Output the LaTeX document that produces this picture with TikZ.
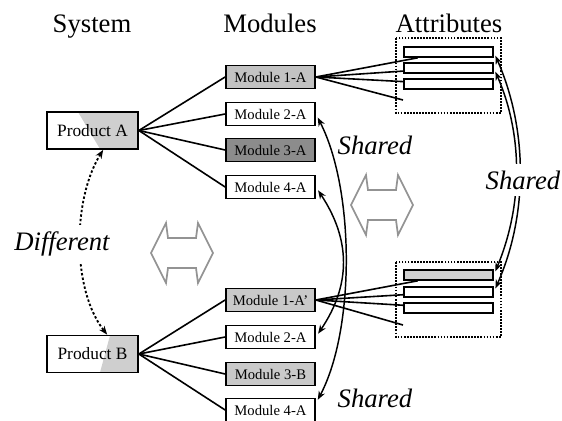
\documentclass[tikz,border=0pt]{standalone}
\usepackage{fontspec}
\setmainfont{Liberation Serif}
\usetikzlibrary{arrows.meta,calc}

\tikzset{swap arrow/.pic={
    \draw[draw=gray!85, line width=1.3pt, line join=miter]
      (-31,0) -- (-16,-30) -- (-14,-15) -- (14,-15) -- (16,-30) -- (31,0)
      -- (16,30) -- (14,15) -- (-14,15) -- (-16,30) -- cycle;
}}

\begin{document}
\begin{tikzpicture}[x=0.75pt, y=-0.75pt,
    every node/.style={font=\fontsize{11}{13}\selectfont},
    module/.style={draw, line width=1.3pt, minimum width=66.75pt, minimum height=17.25pt, inner sep=0pt},
    product/.style={draw, line width=1.3pt, minimum width=68.25pt, minimum height=27.75pt, inner sep=0pt, font=\fontsize{13}{15}\selectfont},
    attr/.style={draw, line width=1.2pt, minimum width=66.75pt, minimum height=7.5pt, inner sep=0pt},
    heading/.style={font=\fontsize{20}{24}\selectfont, anchor=base, inner sep=0pt},
    note/.style={font=\fontsize{20}{24}\selectfont\itshape},
    link/.style={line width=1.2pt},
    share/.style={line width=1.1pt, {Stealth[length=6.5pt,width=5pt]}-{Stealth[length=6.5pt,width=5pt]}},
    attrbox/.style={densely dotted, line width=1.3pt},
  ]
  \useasboundingbox (0,0) rectangle (562,421);

  % headings
  \node[heading] (sys) at (92,32) {System};
  \node[heading] (mod) at (270,32) {Modules};
  \node[heading] (att) at (449,32) {Attributes};

  % products
  \node[product, path picture={\fill[gray!38] ([xshift=-45pt]path picture bounding box.north east) -- (path picture bounding box.north east) -- (path picture bounding box.south east) -- ([xshift=-28.5pt]path picture bounding box.south east) -- cycle;}] (pa) at (92.5,130.5) {Product A};
  \node[product, path picture={\fill[gray!38] ([xshift=-21pt]path picture bounding box.north east) -- (path picture bounding box.north east) -- (path picture bounding box.south east) -- ([xshift=-28.5pt]path picture bounding box.south east) -- cycle;}] (pb) at (92.5,354) {Product B};

  % modules of A
  \node[module, fill=gray!48] (m1a) at (270.5,77) {Module 1-A};
  \node[module] (m2a) at (270.5,114) {Module 2-A};
  \node[module, fill=gray!90] (m3a) at (270.5,150) {Module 3-A};
  \node[module] (m4a) at (270.5,187) {Module 4-A};
  % modules of B
  \node[module, fill=gray!42] (n1a) at (270.5,300) {Module 1-A'};
  \node[module] (n2a) at (270.5,337) {Module 2-A};
  \node[module, fill=gray!42] (n3b) at (270.5,374) {Module 3-B};
  \node[module] (n4a) at (270.5,410) {Module 4-A};

  % attributes
  \draw[attrbox] (396,38) rectangle (501,113);
  \node[attr] (a1) at (448.5,52) {};
  \node[attr] (a2) at (448.5,68) {};
  \node[attr] (a3) at (448.5,84) {};
  \coordinate (a4) at (403,100);
  \draw[attrbox] (396,262) rectangle (501,337);
  \node[attr, fill=gray!35] (b1) at (448.5,275) {};
  \node[attr] (b2) at (448.5,292) {};
  \node[attr] (b3) at (448.5,308) {};
  \coordinate (b4) at (403,325);

  % links
  \foreach \m in {m1a,m2a,m3a,m4a}
    \draw[link] (pa.east) -- (\m.west);
  \foreach \m in {n1a,n2a,n3b,n4a}
    \draw[link] (pb.east) -- (\m.west);
  \foreach \a in {a1,a2,a3,a4}
    \draw[link] (m1a.east) -- (\a);
  \foreach \b in {b1,b2,b3,b4}
    \draw[link] (n1a.east) -- (\b);

  % shared modules
  \draw[share, shorten <=3pt, shorten >=3pt] (m2a.east) .. controls (355,190) and (355,330) .. ([yshift=5pt]n4a.east);
  \draw[share, shorten <=3pt, shorten >=3pt] (m4a.east) .. controls (351,240) and (351,285) .. (n2a.east);
  % shared attributes
  \draw[share, shorten <=3pt, shorten >=3pt] (a1.east) .. controls (528,130) and (528,215) .. (b2.east);
  \draw[share, shorten <=3pt, shorten >=3pt] (a2.east) .. controls (523,135) and (523,205) .. (b1.east);
  % different products
  \draw[share, line width=1.4pt, dash pattern=on 1.8pt off 1.6pt] ([xshift=8pt]pa.south) .. controls (72,200) and (72,290) .. ([xshift=11pt]pb.north);

  % labels
  \node[note, fill=white, inner sep=5pt] (dif) at (62,244) {Different};
  \node[note] (sh1) at (375,145) {Shared};
  \node[note] (sh2) at (375,398) {Shared};
  \node[note, fill=white, inner sep=5pt] (sh3) at (523,180) {Shared};

  % hollow arrows
  \pic at (182,253) {swap arrow};
  \pic at (382,205) {swap arrow};
\end{tikzpicture}
\end{document}
